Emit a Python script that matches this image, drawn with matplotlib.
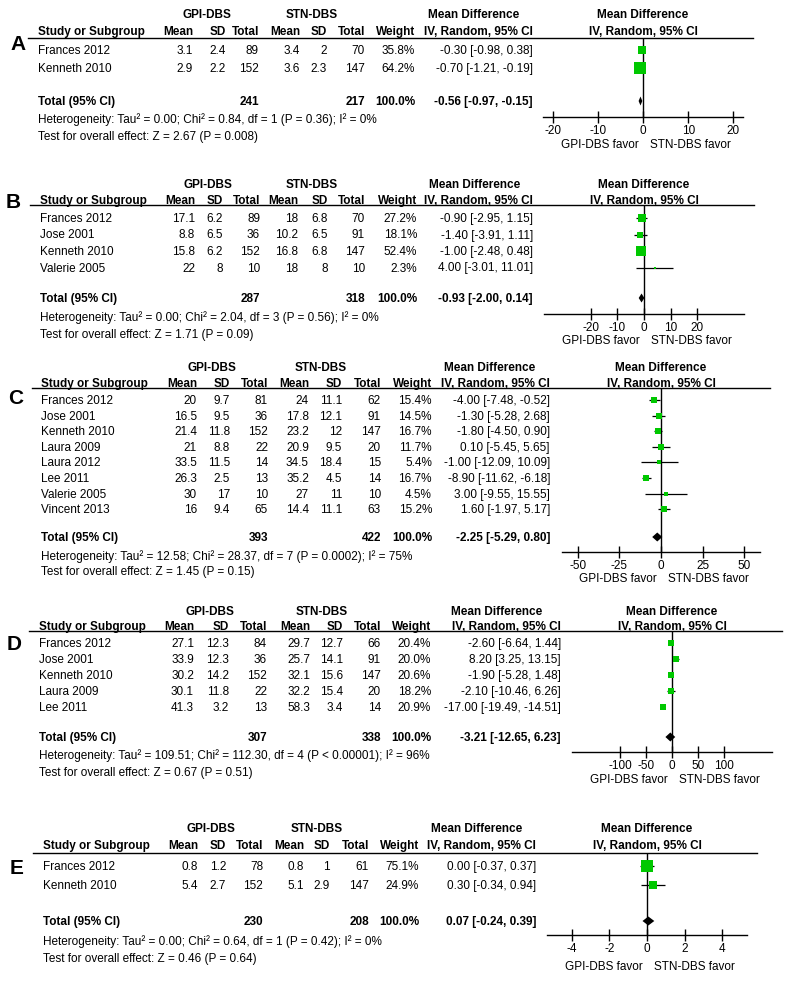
import matplotlib.pyplot as plt
import numpy as np

plt.rcParams['font.family'] = ['Liberation Sans', 'DejaVu Sans']

# ---------------- data ----------------
A_study = ["Frances 2012", "Kenneth 2010"]
A_gpi_mean = [3.1, 2.9]
A_gpi_sd = [2.4, 2.2]
A_gpi_n = [89, 152]
A_stn_mean = [3.4, 3.6]
A_stn_sd = [2, 2.3]
A_stn_n = [70, 147]
A_weight = [35.8, 64.2]
A_md = [-0.30, -0.70]
A_lo = [-0.98, -1.21]
A_hi = [0.38, -0.19]
A_total = [241, 217, -0.56, -0.97, -0.15]
A_het = "Heterogeneity: Tau\u00b2 = 0.00; Chi\u00b2 = 0.84, df = 1 (P = 0.36); I\u00b2 = 0%"
A_test = "Test for overall effect: Z = 2.67 (P = 0.008)"
A_ticks = [-20, -10, 0, 10, 20]

B_study = ["Frances 2012", "Jose 2001", "Kenneth 2010", "Valerie 2005"]
B_gpi_mean = [17.1, 8.8, 15.8, 22]
B_gpi_sd = [6.2, 6.5, 6.2, 8]
B_gpi_n = [89, 36, 152, 10]
B_stn_mean = [18, 10.2, 16.8, 18]
B_stn_sd = [6.8, 6.5, 6.8, 8]
B_stn_n = [70, 91, 147, 10]
B_weight = [27.2, 18.1, 52.4, 2.3]
B_md = [-0.90, -1.40, -1.00, 4.00]
B_lo = [-2.95, -3.91, -2.48, -3.01]
B_hi = [1.15, 1.11, 0.48, 11.01]
B_total = [287, 318, -0.93, -2.00, 0.14]
B_het = "Heterogeneity: Tau\u00b2 = 0.00; Chi\u00b2 = 2.04, df = 3 (P = 0.56); I\u00b2 = 0%"
B_test = "Test for overall effect: Z = 1.71 (P = 0.09)"
B_ticks = [-20, -10, 0, 10, 20]

C_study = ["Frances 2012", "Jose 2001", "Kenneth 2010", "Laura 2009",
           "Laura 2012", "Lee 2011", "Valerie 2005", "Vincent 2013"]
C_gpi_mean = [20, 16.5, 21.4, 21, 33.5, 26.3, 30, 16]
C_gpi_sd = [9.7, 9.5, 11.8, 8.8, 11.5, 2.5, 17, 9.4]
C_gpi_n = [81, 36, 152, 22, 14, 13, 10, 65]
C_stn_mean = [24, 17.8, 23.2, 20.9, 34.5, 35.2, 27, 14.4]
C_stn_sd = [11.1, 12.1, 12, 9.5, 18.4, 4.5, 11, 11.1]
C_stn_n = [62, 91, 147, 20, 15, 14, 10, 63]
C_weight = [15.4, 14.5, 16.7, 11.7, 5.4, 16.7, 4.5, 15.2]
C_md = [-4.00, -1.30, -1.80, 0.10, -1.00, -8.90, 3.00, 1.60]
C_lo = [-7.48, -5.28, -4.50, -5.45, -12.09, -11.62, -9.55, -1.97]
C_hi = [-0.52, 2.68, 0.90, 5.65, 10.09, -6.18, 15.55, 5.17]
C_total = [393, 422, -2.25, -5.29, 0.80]
C_het = "Heterogeneity: Tau\u00b2 = 12.58; Chi\u00b2 = 28.37, df = 7 (P = 0.0002); I\u00b2 = 75%"
C_test = "Test for overall effect: Z = 1.45 (P = 0.15)"
C_ticks = [-50, -25, 0, 25, 50]

D_study = ["Frances 2012", "Jose 2001", "Kenneth 2010", "Laura 2009", "Lee 2011"]
D_gpi_mean = [27.1, 33.9, 30.2, 30.1, 41.3]
D_gpi_sd = [12.3, 12.3, 14.2, 11.8, 3.2]
D_gpi_n = [84, 36, 152, 22, 13]
D_stn_mean = [29.7, 25.7, 32.1, 32.2, 58.3]
D_stn_sd = [12.7, 14.1, 15.6, 15.4, 3.4]
D_stn_n = [66, 91, 147, 20, 14]
D_weight = [20.4, 20.0, 20.6, 18.2, 20.9]
D_md = [-2.60, 8.20, -1.90, -2.10, -17.00]
D_lo = [-6.64, 3.25, -5.28, -10.46, -19.49]
D_hi = [1.44, 13.15, 1.48, 6.26, -14.51]
D_total = [307, 338, -3.21, -12.65, 6.23]
D_het = "Heterogeneity: Tau\u00b2 = 109.51; Chi\u00b2 = 112.30, df = 4 (P < 0.00001); I\u00b2 = 96%"
D_test = "Test for overall effect: Z = 0.67 (P = 0.51)"
D_ticks = [-100, -50, 0, 50, 100]

E_study = ["Frances 2012", "Kenneth 2010"]
E_gpi_mean = [0.8, 5.4]
E_gpi_sd = [1.2, 2.7]
E_gpi_n = [78, 152]
E_stn_mean = [0.8, 5.1]
E_stn_sd = [1, 2.9]
E_stn_n = [61, 147]
E_weight = [75.1, 24.9]
E_md = [0.00, 0.30]
E_lo = [-0.37, -0.34]
E_hi = [0.37, 0.94]
E_total = [230, 208, 0.07, -0.24, 0.39]
E_het = "Heterogeneity: Tau\u00b2 = 0.00; Chi\u00b2 = 0.64, df = 1 (P = 0.42); I\u00b2 = 0%"
E_test = "Test for overall effect: Z = 0.46 (P = 0.64)"
E_ticks = [-4, -2, 0, 2, 4]

# ---------------- layout (pixels) ----------------
# cols: gpi mean, gpi sd, gpi n, stn mean, stn sd, stn n, weight, ci (right edges)
layouts = {
    'A': dict(letter=(10, 45), study_x=38, cols=[193, 226, 259, 300, 327, 365, 415, 533],
              gpi_c=207, stn_c=312, md_c=474, ul=(28, 753),
              y_grp=15, y_hdr=32, y_ul=39, y_row=51, dy=18, y_tot=102, y_het=120, y_test=137,
              ax_x=(543, 743), ax_y=118, xlim=22.1, y_fav=145),
    'B': dict(letter=(6, 203), study_x=40, cols=[195, 223, 260, 298, 328, 365, 417, 533],
              gpi_c=208, stn_c=312, md_c=475, ul=(30, 754),
              y_grp=185, y_hdr=201, y_ul=206, y_row=219, dy=16.5, y_tot=299, y_het=318, y_test=335,
              ax_x=(544, 744), ax_y=315, xlim=37.7, y_fav=341),
    'C': dict(letter=(8, 399), study_x=41, cols=[197, 230, 268, 309, 342, 381, 432, 550],
              gpi_c=212, stn_c=321, md_c=490, ul=(32, 770),
              y_grp=368, y_hdr=384, y_ul=389, y_row=401, dy=15.6, y_tot=538, y_het=557, y_test=572,
              ax_x=(562, 760), ax_y=553, xlim=59.6, y_fav=579),
    'D': dict(letter=(7, 644), study_x=39, cols=[194, 229, 267, 310, 343, 381, 431, 561],
              gpi_c=210, stn_c=322, md_c=497, ul=(29, 782),
              y_grp=612, y_hdr=627, y_ul=632, y_row=644, dy=16, y_tot=738, y_het=756, y_test=773,
              ax_x=(572, 772), ax_y=753, xlim=192, y_fav=780),
    'E': dict(letter=(10, 868), study_x=43, cols=[198, 226, 263, 304, 330, 369, 419, 536],
              gpi_c=211, stn_c=317, md_c=477, ul=(33, 757),
              y_grp=829, y_hdr=846, y_ul=854, y_row=867, dy=19, y_tot=922, y_het=942, y_test=959,
              ax_x=(547, 747), ax_y=936, xlim=5.33, y_fav=967),
}

panels = {
    'A': (A_study, A_gpi_mean, A_gpi_sd, A_gpi_n, A_stn_mean, A_stn_sd, A_stn_n,
          A_weight, A_md, A_lo, A_hi, A_total, A_het, A_test, A_ticks),
    'B': (B_study, B_gpi_mean, B_gpi_sd, B_gpi_n, B_stn_mean, B_stn_sd, B_stn_n,
          B_weight, B_md, B_lo, B_hi, B_total, B_het, B_test, B_ticks),
    'C': (C_study, C_gpi_mean, C_gpi_sd, C_gpi_n, C_stn_mean, C_stn_sd, C_stn_n,
          C_weight, C_md, C_lo, C_hi, C_total, C_het, C_test, C_ticks),
    'D': (D_study, D_gpi_mean, D_gpi_sd, D_gpi_n, D_stn_mean, D_stn_sd, D_stn_n,
          D_weight, D_md, D_lo, D_hi, D_total, D_het, D_test, D_ticks),
    'E': (E_study, E_gpi_mean, E_gpi_sd, E_gpi_n, E_stn_mean, E_stn_sd, E_stn_n,
          E_weight, E_md, E_lo, E_hi, E_total, E_het, E_test, E_ticks),
}

W, H = 787, 987
FS = 8.5
GREEN = '#00c800'

fig = plt.figure(figsize=(W / 100, H / 100), dpi=100)
ax0 = fig.add_axes([0, 0, 1, 1])
ax0.set_xlim(0, W)
ax0.set_ylim(H, 0)
ax0.axis('off')


def txt(x, y, s, ha='left', bold=False, size=FS):
    ax0.text(x, y, s, ha=ha, va='center', fontsize=size,
             fontweight='bold' if bold else 'normal', color='black')


def ci_str(m, lo, hi):
    return f"{m:.2f} [{lo:.2f}, {hi:.2f}]"


for key, L in layouts.items():
    (study, gm, gs, gn, sm, ss, sn, wt, md, lo, hi, tot, het, test, ticks) = panels[key]
    c = L['cols']
    x_zero = (L['ax_x'][0] + L['ax_x'][1]) / 2

    txt(L['letter'][0], L['letter'][1], key, bold=True, size=15)

    # group headers
    txt(L['gpi_c'], L['y_grp'], 'GPI-DBS', ha='center', bold=True)
    txt(L['stn_c'], L['y_grp'], 'STN-DBS', ha='center', bold=True)
    txt(L['md_c'], L['y_grp'], 'Mean Difference', ha='center', bold=True)
    txt(x_zero, L['y_grp'], 'Mean Difference', ha='center', bold=True)

    # column headers
    txt(L['study_x'], L['y_hdr'], 'Study or Subgroup', bold=True)
    for x, s in zip(c, ['Mean', 'SD', 'Total', 'Mean', 'SD', 'Total', 'Weight',
                        'IV, Random, 95% CI']):
        txt(x, L['y_hdr'], s, ha='right', bold=True)
    txt(x_zero, L['y_hdr'], 'IV, Random, 95% CI', ha='center', bold=True)
    ax0.plot(L['ul'], [L['y_ul'], L['y_ul']], color='black', lw=1)

    # study rows
    ys = [L['y_row'] + i * L['dy'] for i in range(len(study))]
    for i, y in enumerate(ys):
        txt(L['study_x'], y, study[i])
        vals = [f"{gm[i]:g}", f"{gs[i]:g}", f"{gn[i]}", f"{sm[i]:g}", f"{ss[i]:g}",
                f"{sn[i]}", f"{wt[i]:.1f}%", ci_str(md[i], lo[i], hi[i])]
        for x, s in zip(c, vals):
            txt(x, y, s, ha='right')

    # total row
    txt(L['study_x'], L['y_tot'], 'Total (95% CI)', bold=True)
    txt(c[2], L['y_tot'], str(tot[0]), ha='right', bold=True)
    txt(c[5], L['y_tot'], str(tot[1]), ha='right', bold=True)
    txt(c[6], L['y_tot'], '100.0%', ha='right', bold=True)
    txt(c[7], L['y_tot'], ci_str(tot[2], tot[3], tot[4]), ha='right', bold=True)
    txt(L['study_x'], L['y_het'], het)
    txt(L['study_x'], L['y_test'], test)

    # favour labels
    txt(x_zero - 43, L['y_fav'], 'GPI-DBS favor', ha='center')
    txt(x_zero + 47, L['y_fav'], 'STN-DBS favor', ha='center')

    # forest axes
    x0, x1 = L['ax_x']
    top, bot = L['y_ul'], L['ax_y']
    ax = fig.add_axes([x0 / W, 1 - bot / H, (x1 - x0) / W, (bot - top) / H])
    ax.set_xlim(-L['xlim'], L['xlim'])
    ax.set_ylim(bot, top)
    ax.patch.set_visible(False)
    for s in ['top', 'left', 'right']:
        ax.spines[s].set_visible(False)
    ax.spines['bottom'].set_linewidth(1)
    ax.set_yticks([])
    ax.set_xticks(ticks)
    ax.set_xticklabels([f"{t}" for t in ticks])
    ax.tick_params(axis='x', direction='inout', length=8, width=1, pad=1,
                   labelsize=FS)
    ax.axvline(0, color='black', lw=1, zorder=1)

    ax.hlines(ys, lo, hi, color='black', lw=0.9, zorder=2)
    for y, m, w in zip(ys, md, wt):
        side = 1.5 * np.sqrt(w)
        ax.plot([m], [y], marker='s', color=GREEN, markersize=side * 0.72,
                markeredgewidth=0, zorder=3)

    # pooled diamond
    ty = L['y_tot']
    ax.fill([tot[3], tot[2], tot[4], tot[2]], [ty, ty - 4.5, ty, ty + 4.5],
            color='black', zorder=4, lw=0)

fig.savefig('out.png', dpi=100)
